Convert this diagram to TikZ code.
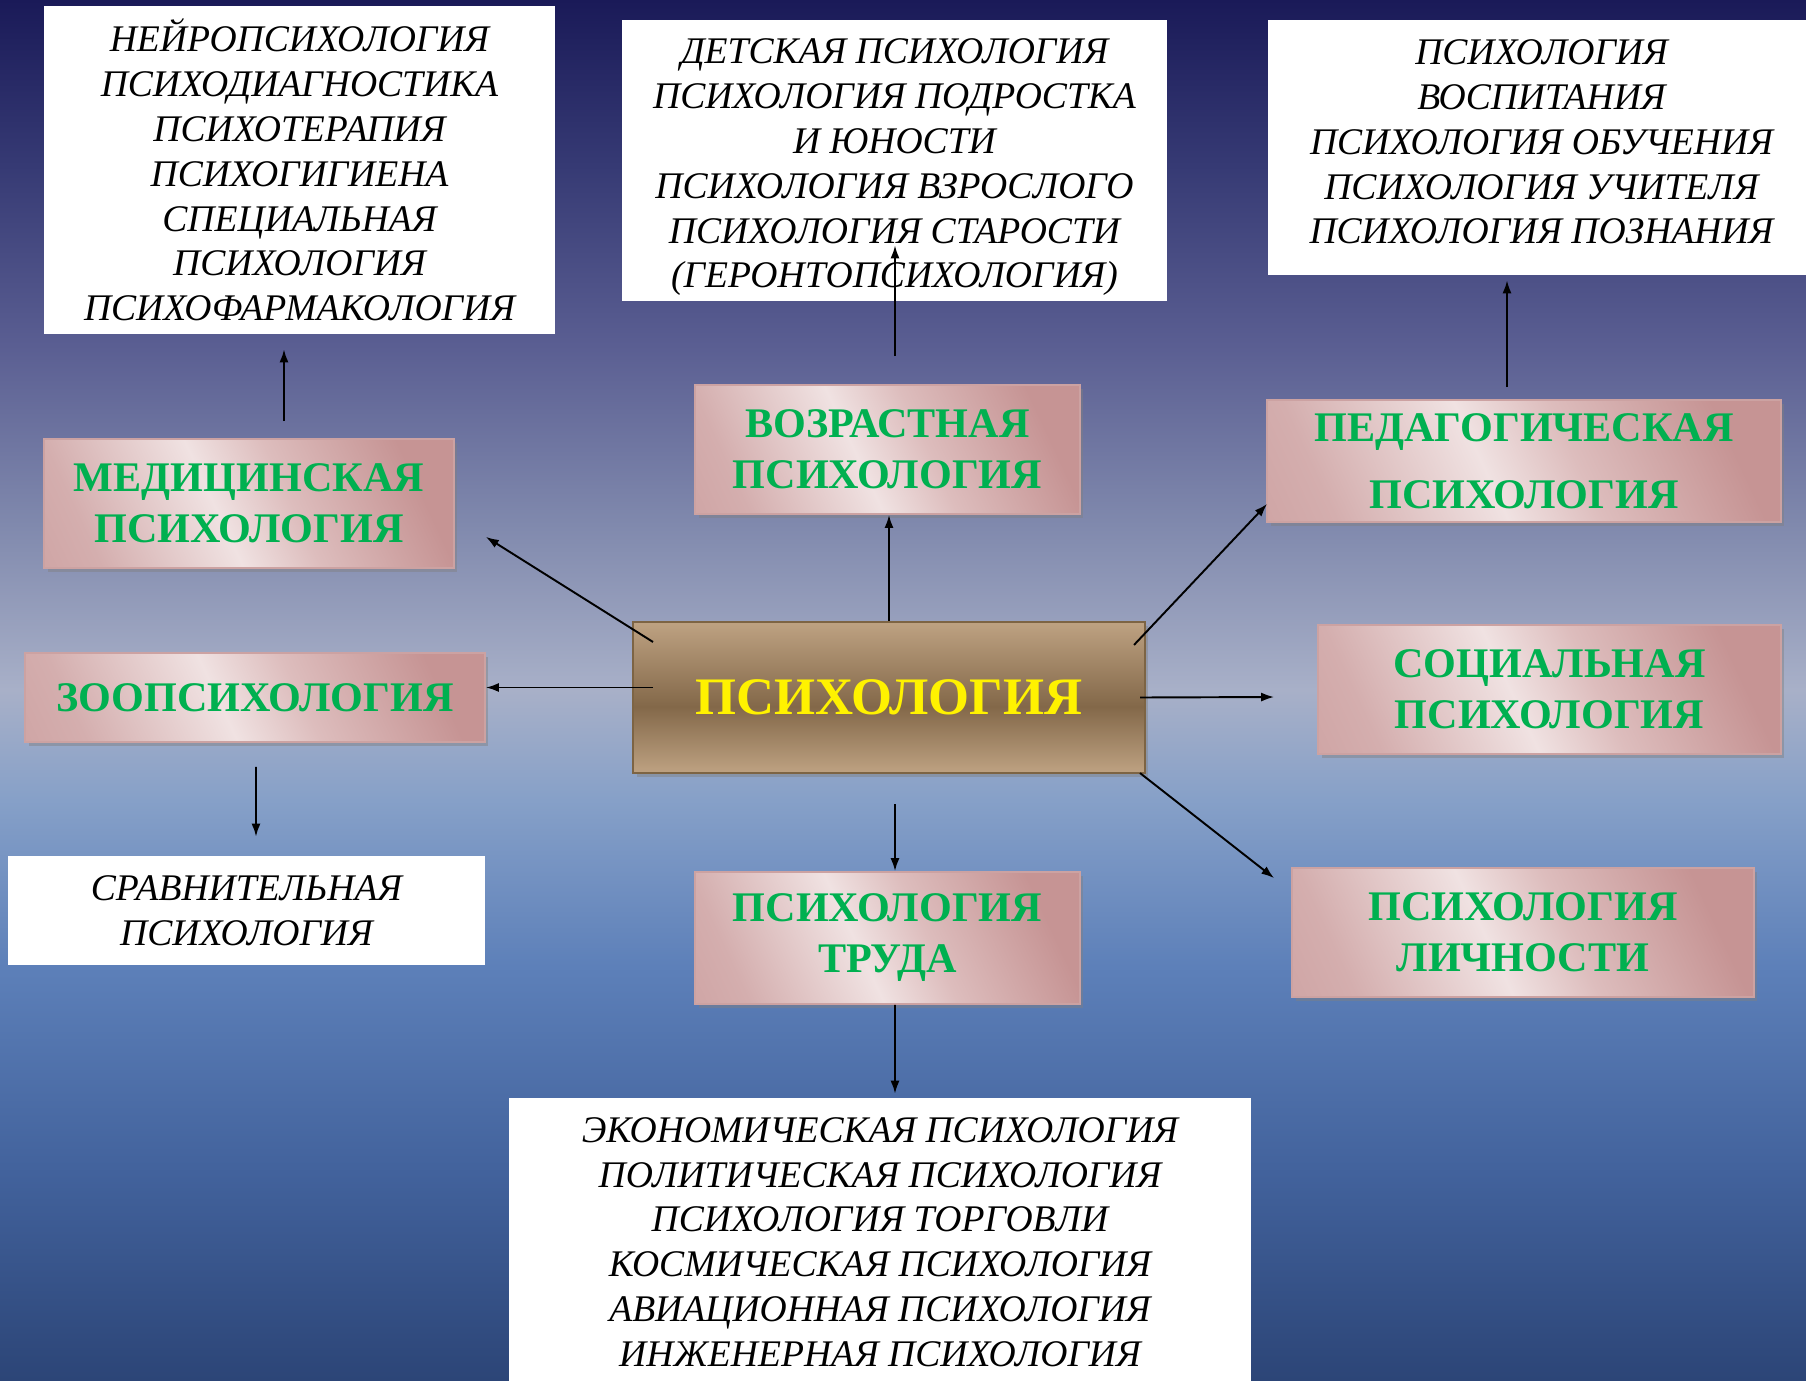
\documentclass[tikz,border=0pt]{standalone}
\usepackage{fontspec}
\setmainfont{Liberation Serif}
\usetikzlibrary{shadows,arrows.meta}

\definecolor{psygreen}{HTML}{00B050}
\definecolor{bgA}{HTML}{2C4577}
\definecolor{bgB}{HTML}{42629C}
\definecolor{bgC}{HTML}{5D80B9}
\definecolor{bgD}{HTML}{86A0C8}
\definecolor{bgE}{HTML}{A8B0C8}
\definecolor{bgF}{HTML}{8089AD}
\definecolor{bgG}{HTML}{5A5E92}
\definecolor{bgH}{HTML}{363A74}
\definecolor{bgI}{HTML}{1A1A58}
\definecolor{roseD}{HTML}{C69494}
\definecolor{roseE}{HTML}{D4AEAE}
\definecolor{roseL}{HTML}{F0E2E2}
\definecolor{roseM}{HTML}{DDBDBD}
\definecolor{roseB}{HTML}{CCA2A2}
\definecolor{brownL}{HTML}{BEA282}
\definecolor{brownD}{HTML}{836849}
\definecolor{brownB}{HTML}{7D6444}

\pgfdeclareverticalshading{bgshade}{100bp}{color(0bp)=(bgA); color(25bp)=(bgA);
  color(32.5bp)=(bgB); color(40bp)=(bgC); color(46bp)=(bgD); color(50bp)=(bgE);
  color(56bp)=(bgF); color(62.5bp)=(bgG); color(69bp)=(bgH); color(75bp)=(bgI);
  color(100bp)=(bgI)}
\pgfdeclarehorizontalshading{roseshade}{100bp}{color(0bp)=(roseD); color(25bp)=(roseE);
  color(45bp)=(roseL); color(56bp)=(roseM); color(75bp)=(roseD); color(100bp)=(roseD)}
\pgfdeclareverticalshading{brownshade}{100bp}{color(0bp)=(brownL); color(25bp)=(brownL);
  color(47bp)=(brownD); color(75bp)=(brownL); color(100bp)=(brownL)}

\begin{document}
\begin{tikzpicture}[
    x=0.02cm, y=-0.02cm,
    every node/.style={inner sep=0pt, align=center},
    listbox/.style={fill=white, font=\fontsize{21.4}{25.5}\selectfont\itshape},
    branch/.style={shading=roseshade, shading angle=25, draw=roseB, line width=1pt,
      text=psygreen, font=\fontsize{24}{29}\selectfont\bfseries,
      drop shadow={shadow xshift=2pt, shadow yshift=-2.5pt, opacity=0.45}},
    core/.style={shading=brownshade, draw=brownB, line width=1.2pt,
      text=yellow, font=\fontsize{30}{34}\selectfont\bfseries,
      drop shadow={shadow xshift=2pt, shadow yshift=-2.5pt, opacity=0.45}},
    arr/.style={-{Latex[length=0.26cm,width=0.18cm]}, line width=1.1pt},
  ]
  \clip (0,0) rectangle (1806,1380);
  \fill[shading=bgshade] (0,0) rectangle (1806,1380);

  \node[listbox, minimum width=10.22cm, minimum height=6.56cm] (w1) at (299.5,170)
    {НЕЙРОПСИХОЛОГИЯ\\ПСИХОДИАГНОСТИКА\\ПСИХОТЕРАПИЯ\\ПСИХОГИГИЕНА\\СПЕЦИАЛЬНАЯ\\ПСИХОЛОГИЯ\\ПСИХОФАРМАКОЛОГИЯ};
  \node[listbox, minimum width=10.9cm, minimum height=5.62cm] (w2) at (894.5,160.5)
    {\rule{0pt}{22pt}ДЕТСКАЯ ПСИХОЛОГИЯ\\ПСИХОЛОГИЯ ПОДРОСТКА\\И ЮНОСТИ\\ПСИХОЛОГИЯ ВЗРОСЛОГО\\ПСИХОЛОГИЯ СТАРОСТИ\\(ГЕРОНТОПСИХОЛОГИЯ)};
  \node[listbox, minimum width=10.94cm, minimum height=5.1cm] (w3) at (1541.5,147.5)
    {ПСИХОЛОГИЯ\\ВОСПИТАНИЯ\\ПСИХОЛОГИЯ ОБУЧЕНИЯ\\ПСИХОЛОГИЯ УЧИТЕЛЯ\\ПСИХОЛОГИЯ ПОЗНАНИЯ\rule[-6.5pt]{0pt}{6.5pt}};
  \node[listbox, minimum width=9.54cm, minimum height=2.18cm] (w4) at (246.5,910.5)
    {СРАВНИТЕЛЬНАЯ\\ПСИХОЛОГИЯ};
  \node[listbox, minimum width=14.84cm, minimum height=5.76cm] (w5) at (880,1242)
    {ЭКОНОМИЧЕСКАЯ ПСИХОЛОГИЯ\\ПОЛИТИЧЕСКАЯ ПСИХОЛОГИЯ\\ПСИХОЛОГИЯ ТОРГОВЛИ\\КОСМИЧЕСКАЯ ПСИХОЛОГИЯ\\АВИАЦИОННАЯ ПСИХОЛОГИЯ\\ИНЖЕНЕРНАЯ ПСИХОЛОГИЯ};

  \node[branch, minimum width=8.2cm, minimum height=2.58cm] (med) at (249,503.5)
    {МЕДИЦИНСКАЯ\\ПСИХОЛОГИЯ};
  \node[branch, minimum width=9.2cm, minimum height=1.78cm] (zoo) at (255,697.5)
    {ЗООПСИХОЛОГИЯ};
  \node[branch, minimum width=7.7cm, minimum height=2.58cm] (vozr) at (887.5,449.5)
    {ВОЗРАСТНАЯ\\ПСИХОЛОГИЯ};
  \node[branch, minimum width=10.28cm, minimum height=2.44cm,
    font=\fontsize{24}{38}\selectfont\bfseries] (ped) at (1524,461)
    {ПЕДАГОГИЧЕСКАЯ\\ПСИХОЛОГИЯ};
  \node[branch, minimum width=9.26cm, minimum height=2.58cm] (soc) at (1549.5,689.5)
    {СОЦИАЛЬНАЯ\\ПСИХОЛОГИЯ};
  \node[branch, minimum width=7.7cm, minimum height=2.64cm] (trud) at (887.5,938)
    {ПСИХОЛОГИЯ\\ТРУДА};
  \node[branch, minimum width=9.24cm, minimum height=2.58cm] (lich) at (1523,932.5)
    {ПСИХОЛОГИЯ\\ЛИЧНОСТИ};
  \node[core, minimum width=10.24cm, minimum height=3.02cm] (psy) at (889,697.5)
    {ПСИХОЛОГИЯ};

  \draw[arr] ([shift={(21,21)}]psy.north west) -- ([shift={(31,-32)}]med.south east);
  \draw[arr] ([shift={(21,-10)}]psy.west) -- ([shift={(0,-10)}]zoo.east);
  \draw[arr] (psy.north) -- (psy.north |- vozr.south);
  \draw[arr] ([shift={(-12,24)}]psy.north east) -- ([shift={(1,-19)}]ped.south west);
  \draw[arr] ([shift={(-6,0)}]psy.east) -- ([shift={(-43,7.5)}]soc.west);
  \draw[arr] ([shift={(-6,-1)}]psy.south east) -- ([shift={(-17,11)}]lich.north west);
  \draw[arr] ([shift={(6,30)}]psy.south) -- ([shift={(7.5,0)}]trud.north);
  \draw[arr] ([shift={(35,-17)}]med.north) -- ([shift={(-15.5,15)}]w1.south);
  \draw[arr] ([shift={(7.5,-28)}]vozr.north) -- ([shift={(0.5,-56)}]w2.south);
  \draw[arr] ([shift={(-17,-12)}]ped.north) -- ([shift={(-34.5,5)}]w3.south);
  \draw[arr] ([shift={(1,24)}]zoo.south) -- ([shift={(9.5,-19)}]w4.north);
  \draw[arr] ([shift={(7.5,0)}]trud.south) -- ([shift={(15,-4)}]w5.north);
\end{tikzpicture}
\end{document}
